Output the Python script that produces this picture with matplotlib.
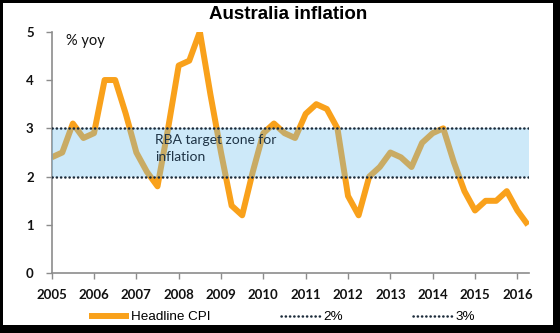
import matplotlib
matplotlib.use("Agg")
import matplotlib.pyplot as plt
from matplotlib.patches import Rectangle
import numpy as np

# quarterly headline CPI, % yoy, 2005 Q1 .. 2016 Q2
cpi = [2.4, 2.5, 3.1, 2.8,
       2.9, 4.0, 4.0, 3.3,
       2.5, 2.1, 1.8, 3.0,
       4.3, 4.4, 5.0, 3.7,
       2.5, 1.4, 1.2, 2.1,
       2.9, 3.1, 2.9, 2.8,
       3.3, 3.5, 3.4, 3.0,
       1.6, 1.2, 2.0, 2.2,
       2.5, 2.4, 2.2, 2.7,
       2.9, 3.0, 2.3, 1.7,
       1.3, 1.5, 1.5, 1.7,
       1.3, 1.0]
start_year = 2005
years = list(range(2005, 2017))
target_low, target_high = 2, 3
yticks = [0, 1, 2, 3, 4, 5]

x = start_year + np.arange(len(cpi)) / 4
x_end = 2016.28

orange = "#F9A11B"
navy = "#1C2B3A"
gray = "#8C8C8C"

fig = plt.figure(figsize=(5.6, 3.33), dpi=100, facecolor="black")
# white page inside the black frame
fig.patches.append(Rectangle((3 / 560, 8 / 333), 550 / 560, 322 / 333,
                             transform=fig.transFigure, facecolor="white",
                             edgecolor="none", zorder=-10))

ax = fig.add_axes([0.0923, 0.1793, 0.8527, 0.7255])
ax.set_zorder(2)
ax.patch.set_alpha(0)

ax.plot(x, cpi, color=orange, lw=4.3, solid_joinstyle="round",
        solid_capstyle="butt", label="Headline CPI", zorder=2)
ax.fill_between([start_year, x_end], target_low, target_high,
                color="#70C0EE", alpha=0.35, lw=0, zorder=3)
dot = (0, (0.1, 1.6))
ax.plot([start_year, x_end], [target_low] * 2, color=navy, lw=1.8,
        linestyle=dot, dash_capstyle="round", label="2%", zorder=4)
ax.plot([start_year, x_end], [target_high] * 2, color=navy, lw=1.8,
        linestyle=dot, dash_capstyle="round", label="3%", zorder=4)

ax.set_xlim(start_year, x_end)
ax.set_ylim(0, 5)
ax.set_xticks(years)
ax.set_yticks(yticks)
ax.set_xticklabels([str(y) for y in years], fontfamily="Lato",
                   fontweight="bold", fontsize=9.5, color="#111111")
ax.set_yticklabels([str(v) for v in yticks], fontfamily="Lato",
                   fontweight="bold", fontsize=9.5, color="#111111")
ax.tick_params(axis="x", length=4, width=1, color=gray, pad=7)
ax.tick_params(axis="y", length=4, width=1, color=gray, pad=9)
for s in ["top", "right"]:
    ax.spines[s].set_visible(False)
for s in ["left", "bottom"]:
    ax.spines[s].set_color(gray)
    ax.spines[s].set_linewidth(1.2)

ax.text(2005.34, 4.81, "% yoy", fontfamily="Lato", fontsize=10.5,
        color="#111111", ha="left", va="center")
ax.text(2007.44, 2.58, "RBA target zone for\ninflation", fontfamily="Lato",
        fontsize=10, color="#1F3446", ha="left", va="center",
        linespacing=1.5, zorder=5)

fig.text(0.514, 0.955, "Australia inflation", fontfamily="Liberation Sans",
         fontweight="bold", fontsize=13.5, ha="center", va="center")

fig.legend(loc="center", bbox_to_anchor=(0.503, 0.048), ncol=3,
           frameon=False, handlelength=3.0, handletextpad=0.15,
           columnspacing=5.2,
           prop={"family": "Liberation Sans", "size": 9.7})

fig.savefig("out.png", dpi=100, facecolor=fig.get_facecolor())
